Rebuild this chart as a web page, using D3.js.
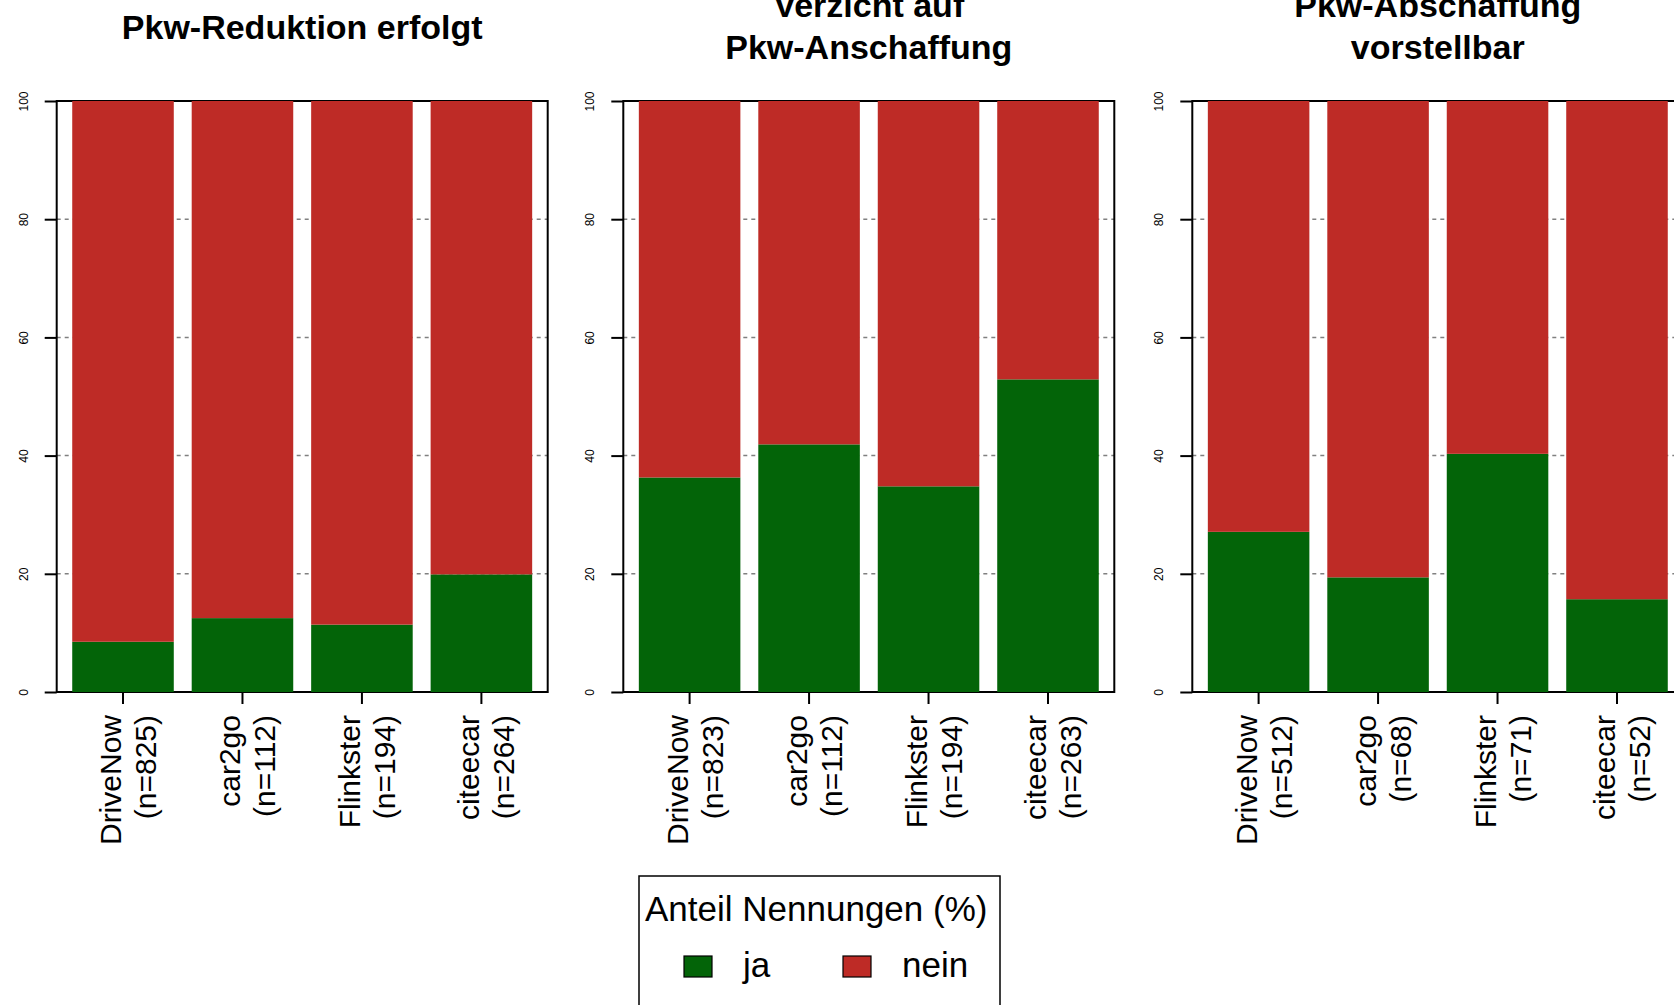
<!DOCTYPE html>
<html>
<head>
<meta charset="utf-8">
<script src="https://cdn.jsdelivr.net/npm/d3@7"></script>
<style>
  body { margin: 0; background: #fff; }
  svg { display: block; }
</style>
</head>
<body>
<div id="chart"></div>
<script>
// Daten
const titles = [
  ["Pkw-Reduktion erfolgt"],
  ["Verzicht auf", "Pkw-Anschaffung"],
  ["Pkw-Abschaffung", "vorstellbar"]
];
const anbieter = ["DriveNow", "car2go", "Flinkster", "citeecar"];
const nCounts = [
  [825, 112, 194, 264],
  [823, 112, 194, 263],
  [512, 68, 71, 52]
];
const jaShare = [
  [8.5, 12.5, 11.4, 19.9],
  [36.3, 41.9, 34.8, 52.9],
  [27.1, 19.4, 40.3, 15.7]
];
const neinShare = [
  [91.5, 87.5, 88.6, 80.1],
  [63.7, 58.1, 65.2, 47.1],
  [72.9, 80.6, 59.7, 84.3]
];
const yTicks = [0, 20, 40, 60, 80, 100];
const gridTicks = [20, 40, 60, 80];
const legendTitle = "Anteil Nennungen (%)";
const legendKeys = ["ja", "nein"];
const colors = {"ja": "#036408", "nein": "#be2b26"};

const W = 1674, H = 1005;
const font = "'Liberation Sans', Arial, sans-serif";
const panelLeft = [56.7, 623.3, 1192.3];
const panelW = 491;
const plotTop = 101, plotBottom = 692;

const svg = d3.select("#chart").append("svg")
  .attr("width", W)
  .attr("height", H);

const y = d3.scaleLinear().domain([0, 100]).range([plotBottom, plotTop]);

titles.forEach((t, p) => drawPanel(p));
drawLegend();

function drawPanel(p){
  const left = panelLeft[p];
  const g = svg.append("g");
  const x = d3.scaleBand()
    .domain(anbieter)
    .range([left, left + panelW])
    .paddingInner(0.15)
    .paddingOuter(0.13);

  // Titel
  const lines = titles[p];
  const cx = left + panelW / 2;
  const baseY = lines.length == 1 ? [38.5] : [17, 59];
  lines.forEach((l, i) => {
    g.append("text")
      .attr("x", cx)
      .attr("y", baseY[i])
      .attr("text-anchor", "middle")
      .attr("font-family", font)
      .attr("font-weight", "bold")
      .attr("font-size", 34)
      .attr("fill", "#000")
      .text(l);
  });

  // Gitterlinien
  g.selectAll("line.grid")
    .data(gridTicks)
    .enter()
    .append("line")
    .attr("class", "grid")
    .attr("x1", left)
    .attr("x2", left + panelW)
    .attr("y1", d => y(d))
    .attr("y2", d => y(d))
    .attr("stroke", "#808080")
    .attr("stroke-width", 1.5)
    .attr("stroke-dasharray", "4,4");

  // Rahmen
  g.append("rect")
    .attr("x", left)
    .attr("y", plotTop)
    .attr("width", panelW)
    .attr("height", plotBottom - plotTop)
    .attr("fill", "none")
    .attr("stroke", "#000")
    .attr("stroke-width", 2);

  // gestapelte Balken
  const rows = anbieter.map((a, i) => ({name: a, ja: jaShare[p][i], nein: neinShare[p][i]}));
  const stack = d3.stack().keys(legendKeys)(rows);
  g.selectAll("g.layer")
    .data(stack)
    .enter()
    .append("g")
    .attr("fill", d => colors[d.key])
    .selectAll("rect")
    .data(d => d)
    .enter()
    .append("rect")
    .attr("x", d => x(d.data.name))
    .attr("width", x.bandwidth())
    .attr("y", d => y(d[1]))
    .attr("height", d => y(d[0]) - y(d[1]));

  // y-Achse
  const yAxis = g.append("g")
    .attr("transform", `translate(${left},0)`)
    .call(d3.axisLeft(y).tickValues(yTicks).tickSize(12));
  yAxis.select(".domain").remove();
  yAxis.selectAll(".tick line").attr("stroke", "#000").attr("stroke-width", 2);
  yAxis.selectAll(".tick text")
    .attr("x", null)
    .attr("dy", null)
    .attr("transform", "translate(-29,0) rotate(-90)")
    .attr("text-anchor", "middle")
    .attr("font-family", font)
    .attr("font-size", 12)
    .attr("fill", "#000");

  // x-Achse
  const xAxis = g.append("g")
    .attr("transform", `translate(0,${plotBottom})`)
    .call(d3.axisBottom(x).tickSize(12).tickFormat(""));
  xAxis.select(".domain").remove();
  xAxis.selectAll(".tick line").attr("stroke", "#000").attr("stroke-width", 2);

  anbieter.forEach((a, i) => {
    const tx = x(a) + x.bandwidth() / 2;
    const label = g.append("text")
      .attr("transform", `translate(${tx},715) rotate(-90)`)
      .attr("text-anchor", "end")
      .attr("font-family", font)
      .attr("font-size", 30)
      .attr("fill", "#000");
    label.append("tspan").attr("x", 0).attr("y", -2).text(a);
    label.append("tspan").attr("x", 0).attr("y", 33).text(`(n=${nCounts[p][i]})`);
  });
}

function drawLegend(){
  const lg = svg.append("g");
  lg.append("rect")
    .attr("x", 639)
    .attr("y", 876)
    .attr("width", 361)
    .attr("height", 160)
    .attr("fill", "#fff")
    .attr("stroke", "#000")
    .attr("stroke-width", 1.5);
  lg.append("text")
    .attr("x", 645)
    .attr("y", 921)
    .attr("font-family", font)
    .attr("font-size", 35)
    .attr("fill", "#000")
    .text(legendTitle);
  const keyX = [684, 843];
  legendKeys.forEach((k, i) => {
    lg.append("rect")
      .attr("x", keyX[i])
      .attr("y", 956)
      .attr("width", 28)
      .attr("height", 21)
      .attr("fill", colors[k])
      .attr("stroke", "#000")
      .attr("stroke-width", 1.2);
    lg.append("text")
      .attr("x", keyX[i] + 59)
      .attr("y", 977)
      .attr("font-family", font)
      .attr("font-size", 35)
      .attr("fill", "#000")
      .text(k);
  });
}
</script>
</body>
</html>
